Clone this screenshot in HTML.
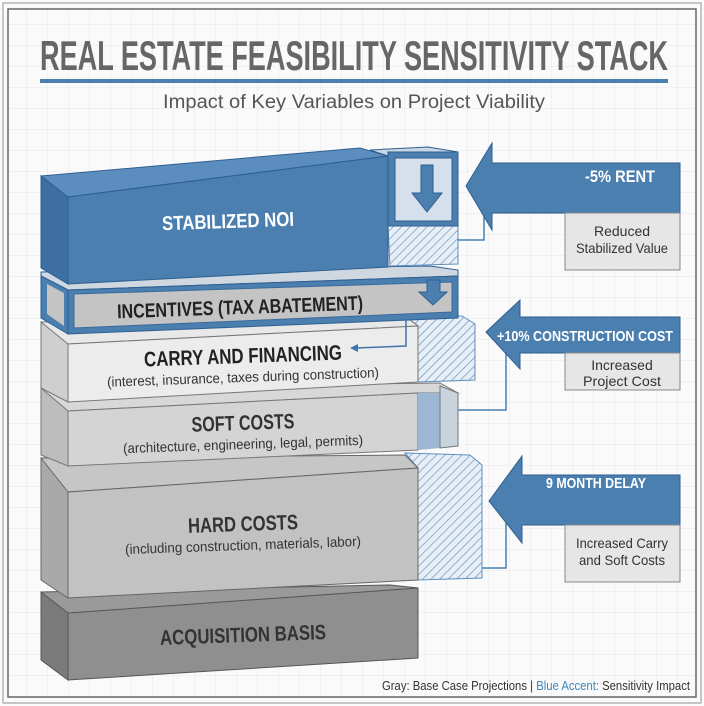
<!DOCTYPE html>
<html><head><meta charset="utf-8"><style>
html,body{margin:0;padding:0;background:#fff}
svg{display:block}
text{font-family:"Liberation Sans",sans-serif}
</style></head><body>
<svg width="704" height="706" viewBox="0 0 704 706" xmlns="http://www.w3.org/2000/svg">
<defs>
<pattern id="grid" width="21" height="21" patternUnits="userSpaceOnUse" x="6" y="4">
<path d="M21 0V21M0 21H21" fill="none" stroke="#e3e6ea" stroke-width="1"/>
</pattern>
<pattern id="hatch" width="6" height="6" patternUnits="userSpaceOnUse" patternTransform="rotate(45)">
<rect width="6" height="6" fill="#e8eef5"/>
<line x1="0" y1="0" x2="0" y2="6" stroke="#5f8fbf" stroke-width="1.3"/>
</pattern>
</defs>
<rect width="704" height="706" fill="#fafafa"/>
<rect x="8" y="9" width="688" height="688" fill="url(#grid)"/>
<rect x="3" y="3" width="698" height="700" fill="none" stroke="#b5b5b5" stroke-width="1.5"/>
<rect x="8" y="9" width="688" height="688" fill="none" stroke="#666" stroke-width="1.5"/>

<text x="40" y="70" font-size="42" font-weight="bold" fill="#666" textLength="628" lengthAdjust="spacingAndGlyphs">REAL ESTATE FEASIBILITY SENSITIVITY STACK</text>
<rect x="40" y="79" width="628" height="4" fill="#4a7fb0"/>
<text x="163" y="108" font-size="19" fill="#555" textLength="382" lengthAdjust="spacingAndGlyphs">Impact of Key Variables on Project Viability</text>

<!-- Acquisition basis -->
<polygon points="41,600 68,622 418,605 418,588 390,585 41,592" fill="#9a9a9a" stroke="#555"/>
<polygon points="41,592 68,613 68,680 41,660" fill="#7a7a7a" stroke="#555"/>
<polygon points="68,613 418,588 418,658 68,680" fill="#8f8f8f" stroke="#555"/>
<text x="243" y="642" font-size="21" font-weight="bold" fill="#333" text-anchor="middle" textLength="166" lengthAdjust="spacingAndGlyphs" transform="rotate(-2 243 635)">ACQUISITION BASIS</text>

<!-- Hard costs hatch -->
<polygon points="405,453 470,455 482,465 482,578 418,580 418,468" fill="url(#hatch)" stroke="#5f8fbf"/>
<!-- Hard costs -->
<polygon points="41,470 68,492 418,468 405,455 41,458" fill="#c6c6c6" stroke="#666"/>
<polygon points="41,458 68,492 68,598 41,580" fill="#a9a9a9" stroke="#666"/>
<polygon points="68,492 418,468 418,580 68,598" fill="#c2c2c2" stroke="#666"/>
<text x="243" y="531" font-size="21" font-weight="bold" fill="#333" text-anchor="middle" textLength="110" lengthAdjust="spacingAndGlyphs" transform="rotate(-2 243 525)">HARD COSTS</text>
<text x="243" y="550" font-size="14" fill="#333" text-anchor="middle" textLength="236" lengthAdjust="spacingAndGlyphs" transform="rotate(-2 243 545)">(including construction, materials, labor)</text>

<!-- Soft costs -->
<polygon points="41,395 68,411 418,393 458,393 440,383 41,388" fill="#d8d8d8" stroke="#777"/>
<polygon points="41,388 68,411 68,466 41,455" fill="#bdbdbd" stroke="#777"/>
<polygon points="68,411 418,393 418,450 68,466" fill="#d4d4d4" stroke="#777"/>
<polygon points="418,393 440,393 440,448 418,450" fill="#9cb7d3"/>
<polygon points="440,386 458,393 458,446 440,448" fill="#c9d3de" stroke="#777"/>
<text x="243" y="430" font-size="21" font-weight="bold" fill="#333" text-anchor="middle" textLength="103" lengthAdjust="spacingAndGlyphs" transform="rotate(-2 243 424)">SOFT COSTS</text>
<text x="243" y="449" font-size="14" fill="#333" text-anchor="middle" textLength="240" lengthAdjust="spacingAndGlyphs" transform="rotate(-2 243 444)">(architecture, engineering, legal, permits)</text>

<!-- Carry hatch -->
<polygon points="405,316 462,316 475,324 475,380 418,382 418,326" fill="url(#hatch)" stroke="#5f8fbf"/>
<!-- Carry and financing -->
<polygon points="41,326 68,344 418,326 405,316 41,322" fill="#e8e8e8" stroke="#777"/>
<polygon points="41,322 68,344 68,402 41,388" fill="#cfcfcf" stroke="#777"/>
<polygon points="68,344 418,326 418,382 68,402" fill="#ececec" stroke="#777"/>
<text x="243" y="363" font-size="21" font-weight="bold" fill="#222" text-anchor="middle" textLength="198" lengthAdjust="spacingAndGlyphs" transform="rotate(-2 243 357)">CARRY AND FINANCING</text>
<text x="243" y="382" font-size="14" fill="#333" text-anchor="middle" textLength="272" lengthAdjust="spacingAndGlyphs" transform="rotate(-2 243 377)">(interest, insurance, taxes during construction)</text>
<polyline points="406,319 406,346 355,348" fill="none" stroke="#3f75ad" stroke-width="1.5"/>
<polygon points="350,348 358,344 358,352" fill="#3f75ad"/>

<!-- Incentives -->
<polygon points="41,276 68,290 458,276 458,270 430,266 41,272" fill="#cfd7e0" stroke="#2f5f90"/>
<polygon points="41,276 68,290 68,334 41,318" fill="#4a7fb0" stroke="#2f5f90"/>
<polygon points="68,290 458,276 458,318 68,334" fill="#4a7fb0" stroke="#2f5f90"/>
<polygon points="74,294 452,282 452,312 74,328" fill="#c4c4c4" stroke="#3a6a9a"/>
<polygon points="47,284 64,293 64,326 47,314" fill="#c4c4c4"/>
<text x="240" y="314" font-size="20" font-weight="bold" fill="#222" text-anchor="middle" textLength="246" lengthAdjust="spacingAndGlyphs" transform="rotate(-2 240 307)">INCENTIVES (TAX ABATEMENT)</text>
<polygon points="427,280 440,280 440,292 447,292 433,305 419,292 427,292" fill="#4a7fb0" stroke="#2f5f90"/>

<!-- NOI side / hatch -->
<polygon points="388,226 458,226 458,264 390,266" fill="url(#hatch)" stroke="#5f8fbf"/>
<polygon points="370,150 428,147 458,152 388,156" fill="#c9d6e4" stroke="#2f5f90"/>
<rect x="388" y="152" width="70" height="74" fill="#4a7fb0" stroke="#2f5f90"/>
<rect x="395" y="158" width="57" height="63" fill="#d6e0ec" stroke="#2f5f90"/>
<polygon points="421,165 433,165 433,193 442,193 427,212 412,193 421,193" fill="#4a7fb0" stroke="#2f5f90"/>
<!-- NOI block -->
<polygon points="41,176 68,197 388,156 360,148" fill="#5b8ebf" stroke="#2f5f90"/>
<polygon points="41,176 68,197 68,284 41,268" fill="#3d6fa2" stroke="#2f5f90"/>
<polygon points="68,197 388,156 388,267 68,284" fill="#4a7fb0" stroke="#2f5f90"/>
<text x="228" y="228" font-size="20" font-weight="bold" fill="#fff" text-anchor="middle" textLength="132" lengthAdjust="spacingAndGlyphs" transform="rotate(-2 228 221)">STABILIZED NOI</text>

<!-- Arrow 1 -->
<polyline points="458,240 484,240 484,200" fill="none" stroke="#4a7fb0" stroke-width="1.5"/>
<polygon points="466,186 492,143 492,163 680,163 680,213 492,213 492,230" fill="#4a7fb0" stroke="#2f5f90"/>
<text x="620" y="182" font-size="17" font-weight="bold" fill="#fff" text-anchor="middle" textLength="70" lengthAdjust="spacingAndGlyphs">-5% RENT</text>
<rect x="565" y="213" width="115" height="57" fill="#e6e6e6" stroke="#888"/>
<text x="622" y="236" font-size="14" fill="#333" text-anchor="middle">Reduced</text>
<text x="622" y="253" font-size="14" fill="#333" text-anchor="middle" textLength="92" lengthAdjust="spacingAndGlyphs">Stabilized Value</text>

<!-- Arrow 2 -->
<polyline points="458,410 506,410 506,350" fill="none" stroke="#4a7fb0" stroke-width="1.5"/>
<polygon points="486,332 520,300 520,317 680,317 680,353 520,353 520,369" fill="#4a7fb0" stroke="#2f5f90"/>
<text x="585" y="341" font-size="15" font-weight="bold" fill="#fff" text-anchor="middle" textLength="176" lengthAdjust="spacingAndGlyphs">+10% CONSTRUCTION COST</text>
<rect x="565" y="353" width="115" height="37" fill="#e6e6e6" stroke="#888"/>
<text x="622" y="370" font-size="14" fill="#333" text-anchor="middle">Increased</text>
<text x="622" y="386" font-size="14" fill="#333" text-anchor="middle" textLength="78" lengthAdjust="spacingAndGlyphs">Project Cost</text>

<!-- Arrow 3 -->
<polyline points="482,568 506,568 506,520" fill="none" stroke="#4a7fb0" stroke-width="1.5"/>
<polygon points="489,501 522,456 522,475 680,475 680,525 522,525 522,543" fill="#4a7fb0" stroke="#2f5f90"/>
<text x="596" y="488" font-size="15" font-weight="bold" fill="#fff" text-anchor="middle" textLength="100" lengthAdjust="spacingAndGlyphs">9 MONTH DELAY</text>
<rect x="565" y="525" width="115" height="57" fill="#e6e6e6" stroke="#888"/>
<text x="622" y="548" font-size="14" fill="#333" text-anchor="middle" textLength="92" lengthAdjust="spacingAndGlyphs">Increased Carry</text>
<text x="622" y="565" font-size="14" fill="#333" text-anchor="middle" textLength="86" lengthAdjust="spacingAndGlyphs">and Soft Costs</text>

<!-- Legend -->
<text x="690" y="690" font-size="13" fill="#333" text-anchor="end" textLength="308" lengthAdjust="spacingAndGlyphs">Gray: Base Case Projections | <tspan fill="#3f86b8">Blue Accent:</tspan> Sensitivity Impact</text>
</svg>
</body></html>
